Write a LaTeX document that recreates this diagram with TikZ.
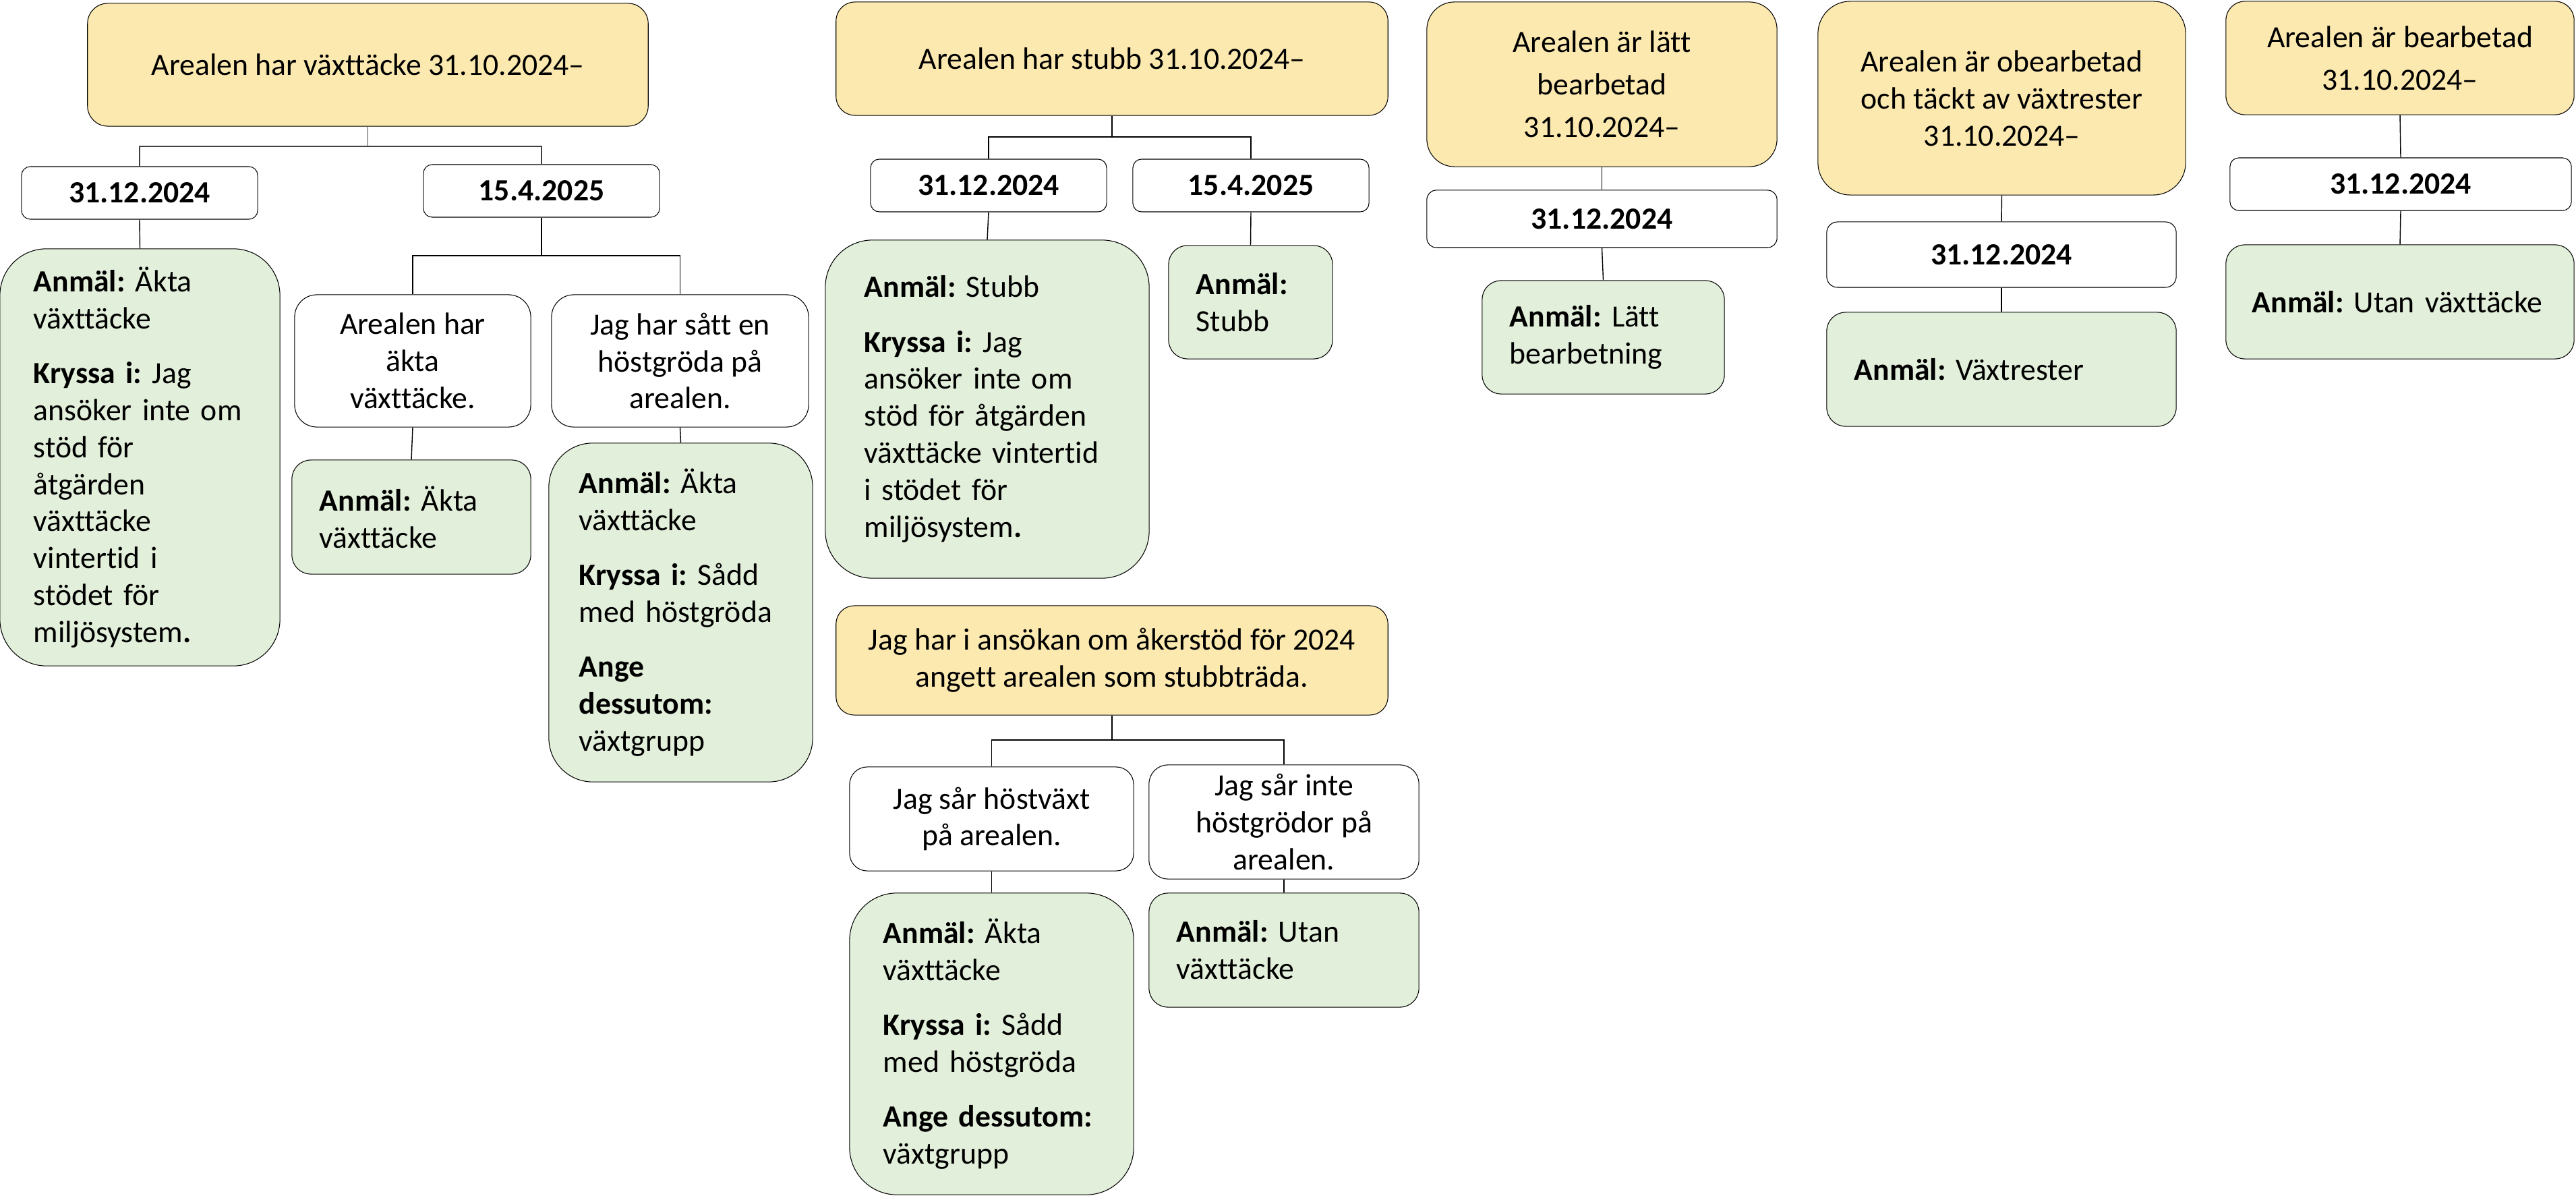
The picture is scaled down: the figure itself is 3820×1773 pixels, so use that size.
\documentclass[tikz,border=0pt]{standalone}
\usepackage{fontspec}
\setmainfont{Carlito}[Ligatures={TeX,NoCommon}]
\frenchspacing
\definecolor{gul}{HTML}{FCE9B0}
\definecolor{gron}{HTML}{E2EFDA}
\tikzset{
    box/.style={draw=black, line width=0.3pt, inner sep=0pt, font=\fontsize{13}{15.6}\selectfont},
    yel/.style={box, fill=gul, align=center},
    wht/.style={box, fill=white, align=center},
    grn/.style={box, fill=gron, align=left, inner xsep=0.41cm},
    link/.style={color=black, line width=0.4pt},
    thinlink/.style={color=black!75, line width=0.3pt},
}

\begin{document}
\begin{tikzpicture}[x=0.01cm, y=-0.01cm]

    \useasboundingbox (0,0) rectangle (3820,1773);

    \node[yel, minimum width=8.31cm, minimum height=1.82cm, rounded corners=0.30cm] (vaxt) at (545.5,96) {Arealen har växttäcke 31.10.2024–};
    \node[wht, minimum width=3.50cm, minimum height=0.78cm, rounded corners=0.13cm] (vaxtdec) at (207,286) {\textbf{31.12.2024}};
    \node[wht, minimum width=3.50cm, minimum height=0.78cm, rounded corners=0.13cm] (vaxtapr) at (803,283) {\textbf{15.4.2025}};
    \node[grn, minimum width=4.15cm, minimum height=6.18cm, rounded corners=0.69cm, inner xsep=0.50cm, text width=3.15cm] (vaxtanm) at (207.5,678)
        {\textbf{Anmäl:} Äkta\\växttäcke\\[7.5pt]\textbf{Kryssa i:} Jag\\ansöker inte om\\stöd för\\åtgärden\\växttäcke\\vintertid i\\stödet för\\miljösystem\textbf{.}};
    \node[wht, minimum width=3.50cm, minimum height=1.96cm, rounded corners=0.33cm] (akta) at (612,535) {Arealen har\\äkta\\växttäcke.};
    \node[wht, minimum width=3.81cm, minimum height=1.96cm, rounded corners=0.33cm] (satt) at (1008.5,535) {Jag har sått en\\höstgröda på\\arealen.};
    \node[grn, minimum width=3.54cm, minimum height=1.69cm, rounded corners=0.28cm, text width=2.72cm] (aktaanm) at (610,766.5) {\textbf{Anmäl:} Äkta\\växttäcke};
    \node[grn, minimum width=3.91cm, minimum height=5.02cm, rounded corners=0.65cm, inner xsep=0.45cm, text width=3.01cm] (sattanm) at (1009.5,908)
        {\textbf{Anmäl:} Äkta\\växttäcke\\[7.5pt]\textbf{Kryssa i:} Sådd\\med höstgröda\\[7.5pt]\textbf{Ange}\\\textbf{dessutom:}\\växtgrupp};

    \node[yel, minimum width=8.18cm, minimum height=1.68cm, rounded corners=0.28cm] (stubb) at (1649,87) {Arealen har stubb 31.10.2024–};
    \node[wht, minimum width=3.50cm, minimum height=0.78cm, rounded corners=0.13cm] (stubbdec) at (1466,275) {\textbf{31.12.2024}};
    \node[wht, minimum width=3.50cm, minimum height=0.78cm, rounded corners=0.13cm] (stubbapr) at (1855,275) {\textbf{15.4.2025}};
    \node[grn, minimum width=4.80cm, minimum height=5.01cm, rounded corners=0.70cm, inner xsep=0.58cm, text width=3.64cm] (stubbanm) at (1464,606.5)
        {\textbf{Anmäl:} Stubb\\[7.5pt]\textbf{Kryssa i:} Jag\\ansöker inte om\\stöd för åtgärden\\växttäcke vintertid\\i stödet för\\miljösystem\textbf{.}};
    \node[grn, minimum width=2.43cm, minimum height=1.68cm, rounded corners=0.28cm, text width=1.61cm] (stubbapranm) at (1854.5,448) {\textbf{Anmäl:}\\Stubb};

    \node[yel, minimum width=8.18cm, minimum height=1.62cm, rounded corners=0.27cm] (trada) at (1649,979) {Jag har i ansökan om åkerstöd för 2024\\angett arealen som stubbträda.};
    \node[wht, minimum width=4.21cm, minimum height=1.54cm, rounded corners=0.26cm] (host) at (1470.5,1214) {Jag sår höstväxt\\på arealen.};
    \node[wht, minimum width=4.00cm, minimum height=1.69cm, rounded corners=0.28cm] (ingenhost) at (1904,1218.5) {Jag sår inte\\höstgrödor på\\arealen.};
    \node[grn, minimum width=4.21cm, minimum height=4.47cm, rounded corners=0.70cm, inner xsep=0.50cm, text width=3.21cm] (hostanm) at (1470.5,1547.5)
        {\textbf{Anmäl:} Äkta\\växttäcke\\[7.5pt]\textbf{Kryssa i:} Sådd\\med höstgröda\\[7.5pt]\textbf{Ange dessutom:}\\växtgrupp};
    \node[grn, minimum width=4.00cm, minimum height=1.69cm, rounded corners=0.28cm, text width=3.18cm] (ingenanm) at (1904,1408.5) {\textbf{Anmäl:} Utan\\växttäcke};

    \node[yel, minimum width=5.19cm, minimum height=2.44cm, rounded corners=0.41cm, font=\fontsize{13}{17.9}\selectfont] (latt) at (2375.5,125) {Arealen är lätt\\bearbetad\\31.10.2024–};
    \node[wht, minimum width=5.19cm, minimum height=0.85cm, rounded corners=0.14cm] (lattdec) at (2375.5,324.5) {\textbf{31.12.2024}};
    \node[grn, minimum width=3.59cm, minimum height=1.68cm, rounded corners=0.28cm, text width=2.77cm] (lattanm) at (2377.5,500) {\textbf{Anmäl:} Lätt\\bearbetning};

    \node[yel, minimum width=5.45cm, minimum height=2.87cm, rounded corners=0.48cm] (obearb) at (2968.5,145.5) {Arealen är obearbetad\\och täckt av växtrester\\31.10.2024–};
    \node[wht, minimum width=5.18cm, minimum height=0.97cm, rounded corners=0.16cm] (obearbdec) at (2968,377.5) {\textbf{31.12.2024}};
    \node[grn, minimum width=5.18cm, minimum height=1.69cm, rounded corners=0.28cm, text width=4.36cm] (obearbanm) at (2968,547.5) {\textbf{Anmäl:} Växtrester};

    \node[yel, minimum width=5.16cm, minimum height=1.68cm, rounded corners=0.28cm, font=\fontsize{13}{17.9}\selectfont] (bearb) at (3559,86) {Arealen är bearbetad\\31.10.2024–};
    \node[wht, minimum width=5.06cm, minimum height=0.78cm, rounded corners=0.13cm] (bearbdec) at (3560,273) {\textbf{31.12.2024}};
    \node[grn, minimum width=5.16cm, minimum height=1.69cm, rounded corners=0.28cm, inner xsep=0.39cm, text width=4.38cm] (bearbanm) at (3559,447.5) {\textbf{Anmäl:} Utan växttäcke};

    \coordinate (vaxtbus) at (545.5,217);
    \coordinate (aprbus) at (803,379);
    \coordinate (stubbbus) at (1649,203);
    \coordinate (tradabus) at (1649,1097);

    \draw[thinlink] (vaxt.south) -- (vaxtbus) -| (vaxtdec.north);
    \draw[thinlink] (vaxtbus) -| (vaxtapr.north);
    \draw[link] (vaxtdec.south) -- (vaxtanm.north);
    \draw[link] (vaxtapr.south) -- (aprbus) -| (akta.north);
    \draw[link] (aprbus) -| (satt.north);
    \draw[link] (akta.south) -- (aktaanm.north);
    \draw[link] (satt.south) -- (sattanm.north);

    \draw[link] (stubb.south) -- (stubbbus) -| (stubbdec.north);
    \draw[link] (stubbbus) -| (stubbapr.north);
    \draw[link] (stubbdec.south) -- (stubbanm.north);
    \draw[link] (stubbapr.south) -- (stubbapranm.north);

    \draw[link] (trada.south) -- (tradabus) -| (host.north);
    \draw[link] (tradabus) -| (ingenhost.north);
    \draw[link] (host.south) -- (hostanm.north);
    \draw[link] (ingenhost.south) -- (ingenanm.north);

    \draw[link] (latt.south) -- (lattdec.north);
    \draw[link] (lattdec.south) -- (lattanm.north);
    \draw[link] (obearb.south) -- (obearbdec.north);
    \draw[link] (obearbdec.south) -- (obearbanm.north);
    \draw[link] (bearb.south) -- (bearbdec.north);
    \draw[link] (bearbdec.south) -- (bearbanm.north);

\end{tikzpicture}
\end{document}
